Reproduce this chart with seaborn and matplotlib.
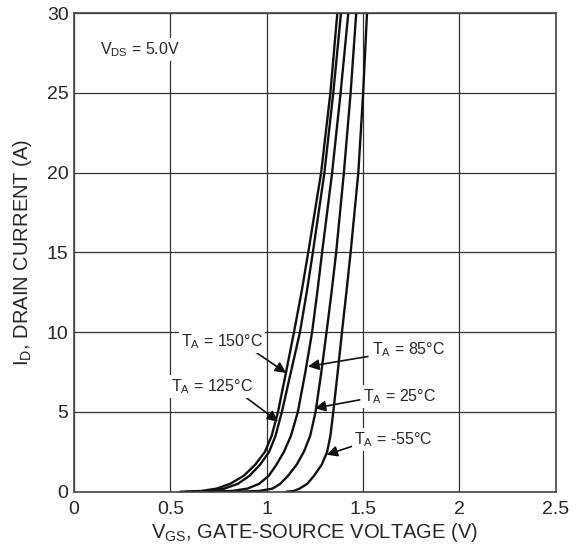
import pandas as pd
import matplotlib.pyplot as plt
import seaborn as sns

# drain current (A) sample points shared by every curve
current = [0, 0.05, 0.2, 0.5, 1, 1.7, 2.5, 3.5, 5, 7.5, 10, 12.5, 15, 20, 25, 30]

# gate-source voltage (V) at each current
vgs_150 = [0.55, 0.66, 0.74, 0.81, 0.88, 0.94, 0.99, 1.025, 1.058, 1.10, 1.141, 1.18, 1.215, 1.282, 1.33, 1.366]
vgs_125 = [0.58, 0.70, 0.78, 0.85, 0.91, 0.965, 1.012, 1.045, 1.078, 1.125, 1.172, 1.207, 1.239, 1.299, 1.345, 1.385]
vgs_85 = [0.65, 0.82, 0.90, 0.96, 1.01, 1.05, 1.089, 1.125, 1.161, 1.20, 1.235, 1.262, 1.287, 1.339, 1.383, 1.423]
vgs_25 = [0.85, 0.96, 1.03, 1.07, 1.11, 1.155, 1.192, 1.225, 1.253, 1.283, 1.31, 1.336, 1.36, 1.40, 1.435, 1.464]
vgs_m55 = [1.10, 1.14, 1.17, 1.21, 1.245, 1.285, 1.313, 1.33, 1.345, 1.368, 1.39, 1.413, 1.435, 1.475, 1.50, 1.52]

temps = ['150', '125', '85', '25', '-55']
curves = [vgs_150, vgs_125, vgs_85, vgs_25, vgs_m55]

rows = []
for t, v in zip(temps, curves):
    for x, y in zip(v, current):
        rows.append({'vgs': x, 'id': y, 'temp': t})
df = pd.DataFrame(rows)

sns.set_style('white')
plt.rcParams['font.family'] = ['Liberation Sans', 'DejaVu Sans']

fig = plt.figure(figsize=(5.79, 5.44), dpi=100)
ax = fig.add_axes([0.128, 0.096, 0.832, 0.880])

sns.lineplot(data=df, x='vgs', y='id', hue='temp', units='temp', estimator=None,
             palette=['#111111'] * 5, linewidth=1.7, legend=False, sort=False, ax=ax)

ax.set_xlim(0, 2.5)
ax.set_ylim(0, 30)
ax.set_xticks([0, 0.5, 1, 1.5, 2, 2.5])
ax.set_xticklabels(['0', '0.5', '1', '1.5', '2', '2.5'])
ax.set_yticks([0, 5, 10, 15, 20, 25, 30])
ax.grid(True, color='#333333', linewidth=0.9)
ax.tick_params(labelsize=14, length=0)
ax.tick_params(axis='x', pad=7)
ax.tick_params(axis='y', pad=4)
for s in ax.spines.values():
    s.set_color('#444444')
    s.set_linewidth(1.2)

ax.set_xlabel('V$_{\\mathregular{GS}}$, GATE-SOURCE VOLTAGE (V)', fontsize=14.5, labelpad=2)
ax.set_ylabel('I$_{\\mathregular{D}}$, DRAIN CURRENT (A)', fontsize=14.5, labelpad=9)

box = dict(facecolor='white', edgecolor='none', pad=1.5)
ax.text(0.342, 27.7, 'V$_{\\mathregular{DS}}$ = 5.0V', fontsize=11.5, ha='center', va='center', bbox=box)

arrow = dict(arrowstyle='-|>', color='#111111', lw=1.2, mutation_scale=16, shrinkA=0, shrinkB=0)
labels = [
    ('T$_{\\mathregular{A}}$ = 150°C', (0.767, 9.4), (0.90, 9.1), (1.10, 7.45)),
    ('T$_{\\mathregular{A}}$ = 125°C', (0.714, 6.6), (0.86, 6.2), (1.059, 4.4)),
    ('T$_{\\mathregular{A}}$ = 85°C', (1.738, 8.9), (1.525, 8.48), (1.214, 7.85)),
    ('T$_{\\mathregular{A}}$ = 25°C', (1.688, 5.97), (1.482, 5.76), (1.249, 5.24)),
    ('T$_{\\mathregular{A}}$ = -55°C', (1.658, 3.26), (1.465, 2.94), (1.31, 2.32)),
]
for txt, pos, tail, tip in labels:
    ax.annotate('', xy=tip, xytext=tail, arrowprops=arrow)
    ax.text(pos[0], pos[1], txt, fontsize=11.5, ha='center', va='center', bbox=box)

plt.savefig('out.png', dpi=100)
